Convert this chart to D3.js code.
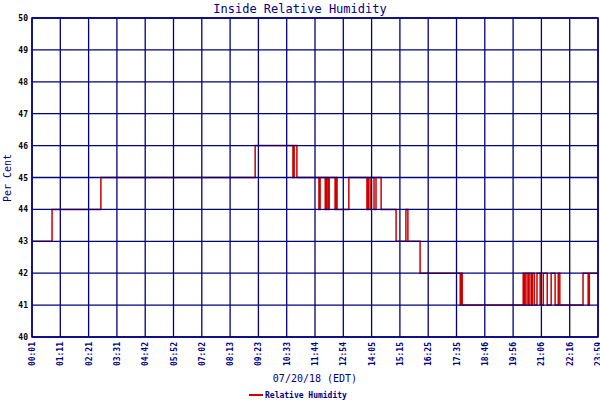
<!DOCTYPE html>
<html><head><meta charset="utf-8">
<script src="https://cdn.jsdelivr.net/npm/d3@7"></script>
<style>body{margin:0;background:#fff}</style>
</head><body>
<svg width="600" height="400"></svg>
<script>
// minutes after midnight and humidity (step-after)
let times = [1,52,176,568,664,667,674,730,733,746,749,753,756,771,774,776,806,852,855,857,862,870,875,888,926,951,956,987,1089,1092,1094,1249,1252,1256,1261,1264,1269,1272,1277,1284,1292,1300,1310,1320,1330,1338,1342,1401,1414,1417,1439];
let values = [43,44,45,46,45,46,45,44,45,44,45,44,45,44,45,44,45,44,45,44,45,44,45,44,43,44,43,42,41,42,41,42,41,42,41,42,41,42,41,42,41,42,41,42,41,42,41,42,41,42,42];
let tickLabels = ["00:01","01:11","02:21","03:31","04:42","05:52","07:02","08:13","09:23","10:33","11:44","12:54","14:05","15:15","16:25","17:35","18:46","19:56","21:06","22:16","23:59"];
let yTicks = d3.range(40, 51);

let plotL = 32, plotR = 598, plotT = 18, plotB = 337;
let navy = "#000080", font = "DejaVu Sans Mono";

let svg = d3.select("svg");

let x = d3.scaleLinear().domain([1, 1439]).range([plotL, plotR]);
let y = d3.scaleLinear().domain([40, 50]).range([plotB, plotT]);
let tickTimes = tickLabels.map((d, i) => 1 + i * (1438 / 20));

// the line goes under the grid, like the original
let data = times.map((t, i) => ({t: t, v: values[i]}));
svg.append("path")
  .datum(data)
  .attr("fill", "none")
  .attr("stroke", "#cc0000")
  .attr("stroke-width", 1.5)
  .attr("d", d3.line().x(d => x(d.t)).y(d => y(d.v)).curve(d3.curveStepAfter));

// grid
svg.append("g").selectAll("line").data(yTicks).enter().append("line")
  .attr("x1", plotL).attr("x2", plotR)
  .attr("y1", d => y(d)).attr("y2", d => y(d))
  .attr("stroke", navy).attr("stroke-width", 1.3);
svg.append("g").selectAll("line").data(tickTimes).enter().append("line")
  .attr("y1", plotT).attr("y2", plotB)
  .attr("x1", d => x(d)).attr("x2", d => x(d))
  .attr("stroke", navy).attr("stroke-width", 1.3);
svg.append("rect").attr("x", plotL).attr("y", plotT)
  .attr("width", plotR - plotL).attr("height", plotB - plotT)
  .attr("fill", "none").attr("stroke", navy).attr("stroke-width", 1.5);

// y tick labels
svg.append("g").selectAll("text").data(yTicks).enter().append("text")
  .attr("x", plotL - 4).attr("y", d => y(d) + 3)
  .attr("text-anchor", "end")
  .style("font", "bold 8px " + font).attr("fill", "#000")
  .text(d => d);

// x tick labels, rotated
svg.append("g").selectAll("text").data(tickTimes).enter().append("text")
  .attr("transform", d => "translate(" + (x(d) + 3) + "," + (plotB + 5) + ") rotate(-90)")
  .attr("text-anchor", "end")
  .style("font", "bold 8px " + font).attr("fill", navy)
  .text((d, i) => tickLabels[i]);

svg.append("text").attr("x", 300).attr("y", 13).attr("text-anchor", "middle")
  .style("font", "12px " + font).attr("fill", navy).text("Inside Relative Humidity");
svg.append("text").attr("x", 315).attr("y", 382).attr("text-anchor", "middle")
  .style("font", "10px " + font).attr("fill", navy).text("07/20/18 (EDT)");
svg.append("text").attr("transform", "translate(11,178) rotate(-90)").attr("text-anchor", "middle")
  .style("font", "10px " + font).attr("fill", navy).text("Per Cent");

// legend
svg.append("line").attr("x1", 249).attr("x2", 263).attr("y1", 395).attr("y2", 395)
  .attr("stroke", "#cc0000").attr("stroke-width", 2);
svg.append("text").attr("x", 265).attr("y", 398)
  .style("font", "bold 8px " + font).attr("fill", navy).text("Relative Humidity");
</script>
</body></html>
